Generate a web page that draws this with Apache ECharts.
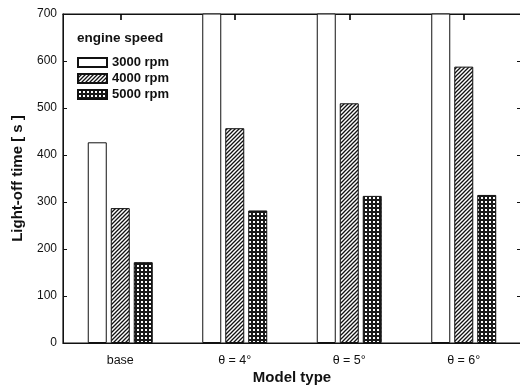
<!DOCTYPE html>
<html><head><meta charset="utf-8">
<script src="https://cdn.jsdelivr.net/npm/echarts@6/dist/echarts.min.js"></script>
<style>html,body{margin:0;padding:0;background:#fff}#c{width:520px;height:387px}</style>
</head><body><div id="c"></div>
<script>
const categories = ['base', 'θ = 4°', 'θ = 5°', 'θ = 6°'];
const rpm3000 = [427, 760, 760, 760];
const rpm4000 = [287, 457, 510, 588];
const rpm5000 = [172, 282, 313, 315];
const seriesNames = ['3000 rpm', '4000 rpm', '5000 rpm'];
const yTicks = [0, 100, 200, 300, 400, 500, 600, 700];

function hatch() {
  const c = document.createElement('canvas'); c.width = 4; c.height = 4;
  const g = c.getContext('2d');
  g.fillStyle = '#fff'; g.fillRect(0, 0, 4, 4);
  g.strokeStyle = '#111'; g.lineWidth = 1.3;
  g.beginPath();
  g.moveTo(-1, 5); g.lineTo(5, -1);
  g.moveTo(-1, 1); g.lineTo(1, -1);
  g.moveTo(3, 5); g.lineTo(5, 3);
  g.stroke();
  return c;
}
function cross() {
  const c = document.createElement('canvas'); c.width = 4; c.height = 4;
  const g = c.getContext('2d');
  g.fillStyle = '#1a1a1a'; g.fillRect(0, 0, 4, 4);
  g.fillStyle = '#fff'; g.fillRect(1, 1, 2, 2);
  return c;
}
const fills = ['#ffffff', { image: hatch(), repeat: 'repeat' }, { image: cross(), repeat: 'repeat' }];
const values = [rpm3000, rpm4000, rpm5000];

const chart = echarts.init(document.getElementById('c'), null, { renderer: 'canvas' });
const font = 'Liberation Sans, Arial, sans-serif';
const bars = seriesNames.map((n, i) => ({
  name: n, type: 'bar', data: values[i], barWidth: 19, barGap: '21%',
  xAxisIndex: 0, yAxisIndex: 0, clip: true,
  itemStyle: { color: fills[i], borderColor: '#111', borderWidth: 1 }
}));
// invisible helper so the top category axis (tick marks) is rendered
bars.push({ name: 'top-axis', type: 'line', data: rpm4000, xAxisIndex: 1, yAxisIndex: 1,
  symbol: 'none', silent: true, lineStyle: { opacity: 0 }, tooltip: { show: false } });

chart.setOption({
  animation: false,
  backgroundColor: '#fff',
  title: { text: 'engine speed', left: 72, top: 26, textStyle: { fontFamily: font, fontSize: 13.5, fontWeight: 'bold', color: '#111' } },
  legend: {
    orient: 'vertical', left: 72, top: 51, itemWidth: 29, itemHeight: 9, itemGap: 3,
    icon: 'rect',
    textStyle: { fontFamily: font, fontSize: 13, fontWeight: 'bold', color: '#111' },
    data: seriesNames
  },
  grid: { left: 63, right: -1, top: 14, bottom: 44, outerBoundsMode: 'none', containLabel: false,
    show: true, borderColor: '#111', borderWidth: 1.2, backgroundColor: 'transparent' },
  xAxis: [
    { type: 'category', data: categories, position: 'bottom',
      axisLine: { onZero: false, lineStyle: { color: '#111', width: 1 } }, axisTick: { show: false },
      axisLabel: { fontFamily: font, fontSize: 12.5, color: '#111', margin: 11 },
      name: 'Model type', nameLocation: 'middle', nameGap: 27, nameMoveOverlap: false,
      nameTextStyle: { fontFamily: font, fontSize: 15, fontWeight: 'bold', color: '#111' } },
    { type: 'category', data: categories, position: 'top', show: true,
      axisLine: { show: true, onZero: false, lineStyle: { color: '#111', width: 1.2 } },
      axisTick: { show: true, inside: true, length: 6, alignWithLabel: true, interval: 0, lineStyle: { color: '#000', width: 1.6 } },
      axisLabel: { show: true, interval: 0, color: 'rgba(0,0,0,0)', fontSize: 10 } }
  ],
  yAxis: [
    { type: 'value', min: 0, max: 700, interval: 100, position: 'left',
      axisLine: { show: true, onZero: false, lineStyle: { color: '#111', width: 1 } },
      axisTick: { show: true, inside: true, length: 4, lineStyle: { color: '#111' } },
      axisLabel: { fontFamily: font, fontSize: 12, color: '#111', margin: 6,
        formatter: v => yTicks.includes(v) ? String(v) : '' },
      splitLine: { show: false },
      name: 'Light-off time [ s ]', nameLocation: 'middle', nameGap: 38, nameMoveOverlap: false,
      nameTextStyle: { fontFamily: font, fontSize: 15, fontWeight: 'bold', color: '#111' } },
    { type: 'value', min: 0, max: 700, interval: 100, position: 'right',
      axisLine: { show: true, onZero: false, lineStyle: { color: '#111', width: 1 } },
      axisTick: { show: true, inside: true, length: 4, lineStyle: { color: '#111' } },
      axisLabel: { show: false }, splitLine: { show: false } }
  ],
  series: bars
});
</script></body></html>
